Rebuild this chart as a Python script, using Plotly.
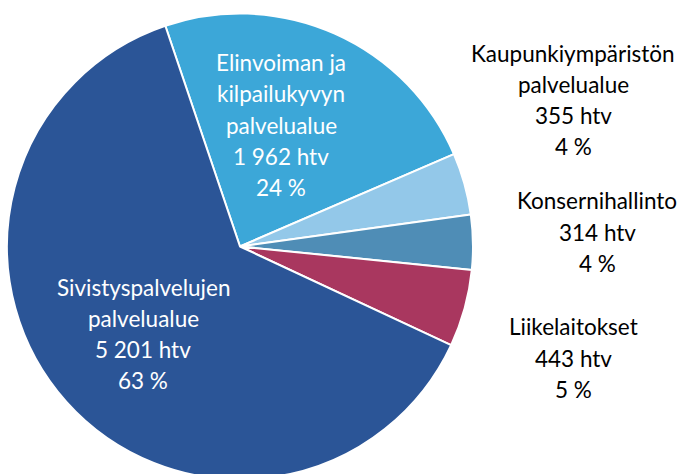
import plotly.graph_objects as go

categories = ["Elinvoiman ja kilpailukyvyn palvelualue", "Kaupunkiympäristön palvelualue",
              "Konsernihallinto", "Liikelaitokset", "Sivistyspalvelujen palvelualue"]
values = [1962, 355, 314, 443, 5201]
label_lines = [
    ["Elinvoiman ja", "kilpailukyvyn", "palvelualue", "1 962 htv", "24 %"],
    ["Kaupunkiympäristön", "palvelualue", "355 htv", "4 %"],
    ["Konsernihallinto", "314 htv", "4 %"],
    ["Liikelaitokset", "443 htv", "5 %"],
    ["Sivistyspalvelujen", "palvelualue", "5 201 htv", "63 %"],
]
colors = ["#3CA7D8", "#93C8E9", "#4F8DB6", "#A9375F", "#2B5597"]

W, H = 681, 480  # figure slightly taller than the 474 window so the pie bottom is clipped
# label block centres (pixels) and text colour
label_pos = [(281, 125), (573, 100), (597, 232), (573, 358), (143, 334)]
label_col = ["white", "black", "black", "black", "white"]
line_h = 31.3

fig = go.Figure(go.Pie(
    labels=categories, values=values, sort=False, direction="clockwise",
    rotation=-18.7, textinfo="none", hoverinfo="label+value+percent",
    marker=dict(colors=colors, line=dict(color="white", width=2)),
    domain=dict(x=[7 / W, 473 / W], y=[0, 1 - 13 / H]),
    showlegend=False,
))

anns = []
for lines, (cx, cy), col in zip(label_lines, label_pos, label_col):
    n = len(lines)
    for i, t in enumerate(lines):
        y = cy + (i - (n - 1) / 2) * line_h
        anns.append(dict(text=t, x=cx / W, y=1 - y / H, xref="paper", yref="paper",
                         showarrow=False, xanchor="center", yanchor="middle",
                         font=dict(family="Lato", size=22.5, color=col)))

fig.update_layout(width=W, height=H, margin=dict(l=0, r=0, t=0, b=0),
                  paper_bgcolor="white", plot_bgcolor="white", annotations=anns)
fig.write_html("out.html", config={"displayModeBar": False},
               post_script="document.body.style.margin='0';document.body.style.overflow='hidden';")
